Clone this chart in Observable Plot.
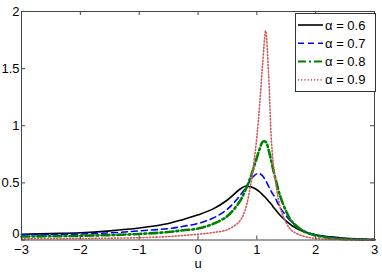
<!DOCTYPE html>
<html>
<head>
<meta charset="utf-8">
<script src="https://cdn.jsdelivr.net/npm/d3@7"></script>
<script src="https://cdn.jsdelivr.net/npm/@observablehq/plot@0.6"></script>
<style>
  html, body { margin: 0; padding: 0; background: #fff; }
  #wrap { position: relative; width: 382px; height: 272px; font-family: "Liberation Sans", Arial, sans-serif; }
  #legend { position: absolute; left: 295px; top: 13px; }
</style>
</head>
<body>
<div id="wrap"></div>
<script>
// shared abscissa
const u = [-3, -2.5, -2, -1.5, -1, -0.5, -0.25, 0, 0.25, 0.5, 0.7, 0.8, 0.9, 0.95, 1.0, 1.05, 1.1, 1.15, 1.2, 1.25, 1.3, 1.4, 1.5, 1.6, 1.8, 2.0, 2.25, 2.5, 3];
// densities
const a06 = [0.05, 0.056, 0.063, 0.08, 0.105, 0.145, 0.18, 0.22, 0.27, 0.35, 0.44, 0.47, 0.465, 0.455, 0.44, 0.42, 0.395, 0.37, 0.34, 0.31, 0.275, 0.215, 0.165, 0.125, 0.072, 0.045, 0.027, 0.015, 0.004];
const a07 = [0.045, 0.048, 0.052, 0.062, 0.08, 0.1, 0.12, 0.145, 0.19, 0.27, 0.38, 0.45, 0.53, 0.56, 0.58, 0.58, 0.56, 0.52, 0.47, 0.42, 0.38, 0.28, 0.21, 0.155, 0.08, 0.045, 0.024, 0.013, 0.003];
const a08 = [0.03, 0.033, 0.037, 0.043, 0.053, 0.07, 0.085, 0.1, 0.14, 0.21, 0.33, 0.43, 0.56, 0.64, 0.72, 0.8, 0.86, 0.86, 0.79, 0.68, 0.57, 0.38, 0.25, 0.16, 0.075, 0.04, 0.018, 0.008, 0.002];
const a09 = [0.01, 0.011, 0.013, 0.016, 0.02, 0.03, 0.04, 0.05, 0.065, 0.09, 0.16, 0.26, 0.5, 0.68, 0.9, 1.2, 1.55, 1.83, 1.45, 0.85, 0.58, 0.28, 0.15, 0.08, 0.033, 0.014, 0.006, 0.003, 0.001];
const seriesNames = ["α = 0.6", "α = 0.7", "α = 0.8", "α = 0.9"];
const xTicks = [-3, -2, -1, 0, 1, 2, 3];
const yTicks = [0, 0.5, 1, 1.5, 2];
const xLabel = "u";

const styles = [
  {stroke: "#000000", strokeWidth: 1.6, strokeDasharray: null},
  {stroke: "#0000ff", strokeWidth: 1.6, strokeDasharray: "6,4"},
  {stroke: "#008000", strokeWidth: 2.6, strokeDasharray: "8,3,2,3"},
  {stroke: "#d05a5a", strokeWidth: 1.6, strokeDasharray: "1.2,2"}
];
const values = [a06, a07, a08, a09];
const rows = values.map(vs => u.map((x, i) => ({u: x, v: vs[i]})));

const fmt = d => (d < 0 ? "\u2212" + Math.abs(d) : String(d));

const W = 382, H = 272, mL = 21, mR = 8, mT = 11, mB = 32.5;
const plotW = W - mL - mR, plotH = H - mT - mB;
const tickCol = "#444";
const tl = 4;

const chart = Plot.plot({
  width: W, height: H,
  marginLeft: mL, marginRight: mR, marginTop: mT, marginBottom: mB,
  style: {fontFamily: "'Liberation Sans', Arial, sans-serif", fontSize: "13px", color: "#000", background: "#fff", overflow: "visible"},
  x: {domain: [-3, 3]},
  y: {domain: [0, 2]},
  marks: [
    ...rows.map((r, k) => Plot.line(r, {x: "u", y: "v", curve: "catmull-rom", ...styles[k]})),
    Plot.frame({stroke: tickCol}),
    // inward ticks on all four sides
    Plot.tickX(xTicks, {x: d => d, stroke: tickCol, insetTop: plotH - tl}),
    Plot.tickX(xTicks, {x: d => d, stroke: tickCol, insetBottom: plotH - tl}),
    Plot.tickY(yTicks, {y: d => d, stroke: tickCol, insetRight: plotW - tl}),
    Plot.tickY(yTicks, {y: d => d, stroke: tickCol, insetLeft: plotW - tl}),
    Plot.axisX({ticks: xTicks, tickFormat: fmt, tickSize: 0, tickPadding: 5, label: null, fill: "#000"}),
    Plot.axisY({ticks: yTicks.filter(d => d !== 0), tickFormat: fmt, tickSize: 0, tickPadding: 2, label: null, fill: "#000"}),
    Plot.axisY({ticks: [0], tickFormat: fmt, tickSize: 0, tickPadding: 2, label: null, dy: -6, fill: "#000"}),
    Plot.text([xLabel], {frameAnchor: "bottom", dy: 23.5, text: d => d, lineAnchor: "middle", fontSize: 13, fill: "#000"})
  ]
});
document.getElementById("wrap").appendChild(chart);

// legend box overlaid inside the axes (upper right)
const lw = 80, lh = 78, rowH = 18.3;
const leg = d3.select("#wrap").append("svg").attr("id", "legend")
  .attr("width", lw + 1).attr("height", lh + 1);
leg.append("rect").attr("x", 0.5).attr("y", 0.5).attr("width", lw).attr("height", lh)
  .attr("fill", "#fff").attr("stroke", "#333");
seriesNames.forEach((name, i) => {
  const y = 12 + i * rowH;
  leg.append("line").attr("x1", 3).attr("x2", 28).attr("y1", y).attr("y2", y)
    .attr("stroke", styles[i].stroke).attr("stroke-width", i === 2 ? 2 : styles[i].strokeWidth)
    .attr("stroke-dasharray", styles[i].strokeDasharray);
  leg.append("text").attr("x", 30).attr("y", y).attr("dy", "0.35em")
    .attr("font-family", "'Liberation Sans', Arial, sans-serif").attr("font-size", 13)
    .text(name);
});
</script>
</body>
</html>
